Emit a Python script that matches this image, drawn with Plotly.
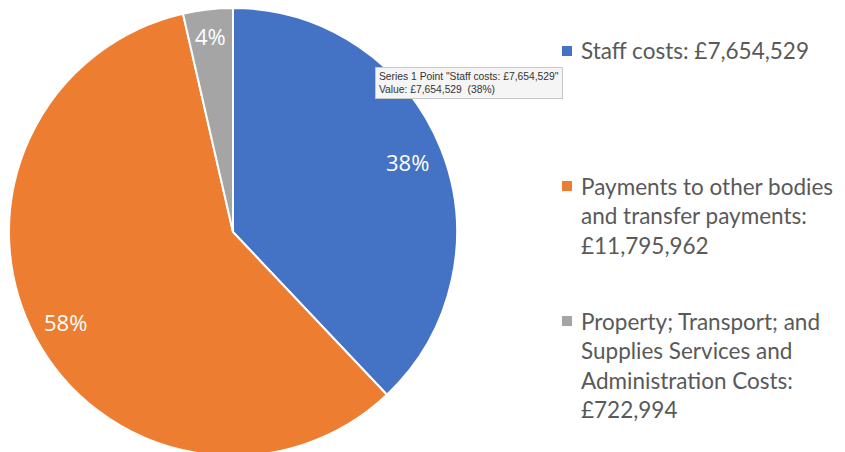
import math
import plotly.graph_objects as go

categories = ["Staff costs",
              "Payments to other bodies and transfer payments",
              "Property; Transport; and Supplies Services and Administration Costs"]
values = [7654529, 11795962, 722994]
colors = ["#4472C4", "#ED7D31", "#A5A5A5"]
legend_lines = [
    ["Staff costs: £7,654,529"],
    ["Payments to other bodies", "and transfer payments:", "£11,795,962"],
    ["Property; Transport; and", "Supplies Services and", "Administration Costs:", "£722,994"],
]

# The page body has an 8px margin; work in screen pixels and shift.
OFF = 8
W, H = 837, 452


def px(x):
    return (x - OFF) / W


def py(y):
    return 1 - (y - OFF) / H


# pie geometry in screen pixels
CX, CY, R = 233, 232, 224
fig = go.Figure(go.Pie(
    labels=categories, values=values, sort=False, direction="clockwise", rotation=0,
    marker=dict(colors=colors, line=dict(color="white", width=2)),
    textinfo="none",
    domain=dict(x=[px(CX - R), px(CX + R)], y=[py(CY + R), py(CY - R)]),
    showlegend=False, hoverinfo="label+value+percent",
))

ann = []
shapes = []

# percentage labels placed along each slice's mid angle
label_r = [0.84, 0.85, 0.88]
total = sum(values)
cum = 0
for i, v in enumerate(values):
    mid = (cum + v / 2) / total * 2 * math.pi
    cum += v
    lx = CX + label_r[i] * R * math.sin(mid)
    ly = CY - label_r[i] * R * math.cos(mid)
    ann.append(dict(x=px(lx), y=py(ly), xref="paper", yref="paper",
                    text=f"{round(v / total * 100)}%", showarrow=False,
                    xanchor="center", yanchor="middle",
                    font=dict(family="Open Sans", size=22, color="white")))

first_y = [52, 187, 322]
line_gap = 29.5
for i, lines in enumerate(legend_lines):
    y0 = first_y[i]
    shapes.append(dict(type="rect", xref="paper", yref="paper",
                       x0=px(562), x1=px(572), y0=py(y0 - 5 - 1), y1=py(y0 + 5 - 1),
                       fillcolor=colors[i], line=dict(width=0)))
    for j, line in enumerate(lines):
        ann.append(dict(x=px(579), y=py(y0 - 1 + j * line_gap), xref="paper", yref="paper", text=line,
                        showarrow=False, xanchor="left", yanchor="middle",
                        font=dict(family="Lato", size=22.5, color="#595959")))

# tooltip box
ann.append(dict(x=px(375), y=py(83), xref="paper", yref="paper",
                text='Series 1 Point "%s: £%s"<br>Value: £%s  (38%%)' % (categories[0], f"{values[0]:,}", f"{values[0]:,}"),
                showarrow=False, xanchor="left", yanchor="middle", align="left",
                font=dict(family="Liberation Sans", size=10.3, color="#333333"),
                bgcolor="#F5F5F5", bordercolor="#C8C8C8", borderwidth=1, borderpad=3))

fig.update_layout(width=W, height=H, margin=dict(l=0, r=0, t=0, b=0),
                  paper_bgcolor="white", plot_bgcolor="white", annotations=ann, shapes=shapes)
fig.write_html("out.html")
